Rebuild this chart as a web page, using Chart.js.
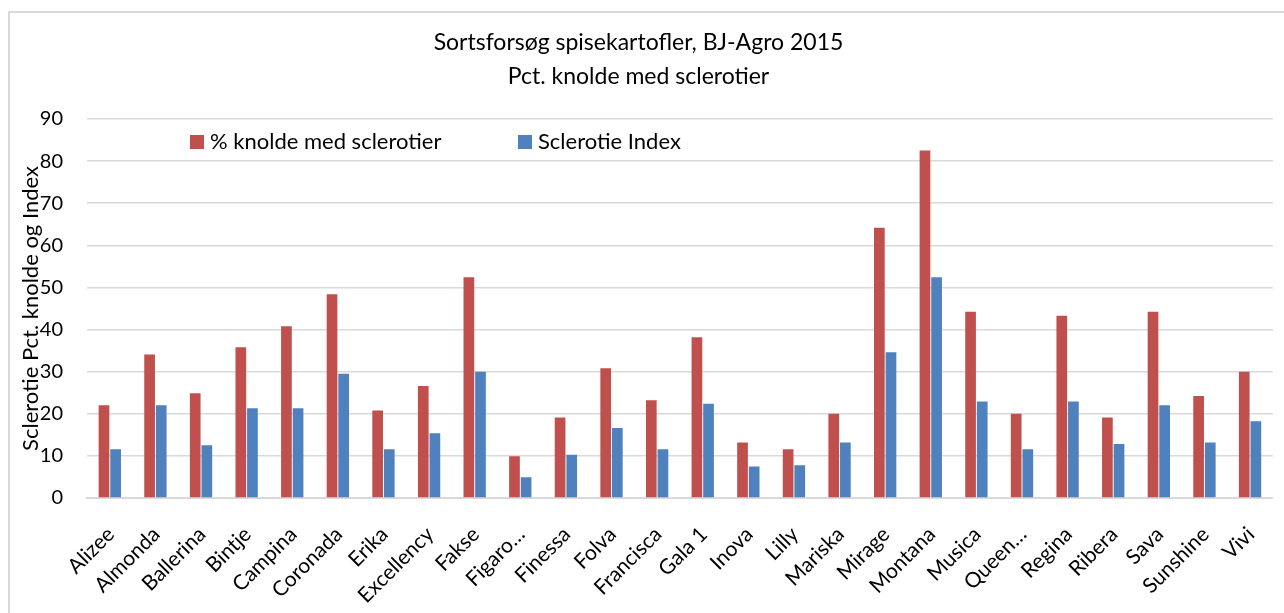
<!DOCTYPE html>
<html>
<head>
<meta charset="utf-8">
<script src="https://cdn.jsdelivr.net/npm/chart.js@4"></script>
<style>
  html, body { margin: 0; padding: 0; background: #fff; overflow: hidden; }
  #frame {
    position: absolute; left: 8px; top: 11px; width: 1300px; height: 620px;
    border-left: 2px solid #d9d9d9; border-top: 2px solid #d9d9d9;
  }
  #wrap { position: absolute; left: 0; top: 0; width: 1284px; height: 613px; }
</style>
</head>
<body>
<div id="frame"></div>
<div id="wrap"><canvas id="chart"></canvas></div>
<script>
// Sorter i forsøget
const categories = ['Alizee', 'Almonda', 'Ballerina', 'Bintje', 'Campina', 'Coronada', 'Erika',
  'Excellency', 'Fakse', 'Figaro…', 'Finessa', 'Folva', 'Francisca', 'Gala 1', 'Inova', 'Lilly',
  'Mariska', 'Mirage', 'Montana', 'Musica', 'Queen…', 'Regina', 'Ribera', 'Sava', 'Sunshine', 'Vivi'];

// % knolde med sclerotier
const pctKnolde = [22.0, 34.1, 24.9, 35.8, 40.8, 48.4, 20.8, 26.6, 52.4, 9.9, 19.1, 30.8, 23.2,
  38.2, 13.2, 11.6, 20.0, 64.2, 82.5, 44.2, 20.0, 43.3, 19.1, 44.2, 24.2, 30.0];

// Sclerotie Index
const sclerotieIndex = [11.6, 22.0, 12.5, 21.3, 21.3, 29.5, 11.6, 15.4, 30.0, 4.9, 10.3, 16.6, 11.6,
  22.4, 7.5, 7.8, 13.2, 34.6, 52.4, 22.9, 11.6, 22.9, 12.8, 22.0, 13.2, 18.2];

const seriesNames = ['% knolde med sclerotier', 'Sclerotie Index'];
const titleLines = ['Sortsforsøg spisekartofler, BJ-Agro 2015', 'Pct. knolde med sclerotier'];
const yTitle = 'Sclerotie Pct. knolde og Index';

const FONT = 'Lato, "Open Sans", sans-serif';

// Legend drawn inside the plot area, like the Excel original
const innerLegend = {
  id: 'innerLegend',
  afterDraw(chart) {
    const ctx = chart.ctx;
    const area = chart.chartArea;
    const y = area.top + 23;
    const starts = [area.left + 103, area.left + 431];
    ctx.save();
    ctx.font = '22px ' + FONT;
    ctx.textBaseline = 'middle';
    ctx.textAlign = 'left';
    chart.data.datasets.forEach((ds, i) => {
      const x = starts[i];
      ctx.fillStyle = ds.backgroundColor;
      ctx.fillRect(x, y - 7, 14, 14);
      ctx.fillStyle = '#000';
      ctx.fillText(ds.label, x + 20, y);
    });
    ctx.restore();
  }
};

const ctx = document.getElementById('chart').getContext('2d');
new Chart(ctx, {
  type: 'bar',
  data: {
    labels: categories,
    datasets: [
      {
        label: seriesNames[0],
        data: pctKnolde,
        backgroundColor: '#C0504D',
        categoryPercentage: 0.51,
        barPercentage: 0.92,
      },
      {
        label: seriesNames[1],
        data: sclerotieIndex,
        backgroundColor: '#4F81BD',
        categoryPercentage: 0.51,
        barPercentage: 0.92,
      },
    ],
  },
  options: {
    responsive: true,
    maintainAspectRatio: false,
    animation: false,
    layout: { padding: { left: 0, right: 7, top: 0, bottom: 0 } },
    plugins: {
      legend: { display: false },
      tooltip: { enabled: false },
      title: {
        display: true,
        text: titleLines,
        color: '#000',
        font: { family: FONT, size: 23, weight: 'normal', lineHeight: 34 / 23 },
        padding: { top: 26, bottom: 25 },
      },
    },
    scales: {
      x: {
        grid: { display: false },
        border: { display: true, color: '#d9d9d9', width: 2 },
        ticks: {
          color: '#000',
          font: { family: FONT, size: 21 },
          minRotation: 45,
          maxRotation: 45,
          autoSkip: false,
          padding: 16,
          labelOffset: 1,
        },
        afterFit(scale) { scale.height = 115; },
      },
      y: {
        min: 0,
        max: 90,
        grid: { color: '#d9d9d9', lineWidth: 1.5, drawTicks: false },
        border: { display: false },
        ticks: {
          stepSize: 10,
          color: '#000',
          font: { family: FONT, size: 20 },
          padding: 24,
        },
        title: {
          display: true,
          text: yTitle,
          color: '#000',
          font: { family: FONT, size: 22 },
          padding: { top: 18, bottom: 0 },
        },
        afterFit(scale) { scale.width = 87; },
      },
    },
  },
  plugins: [innerLegend],
});
</script>
</body>
</html>
